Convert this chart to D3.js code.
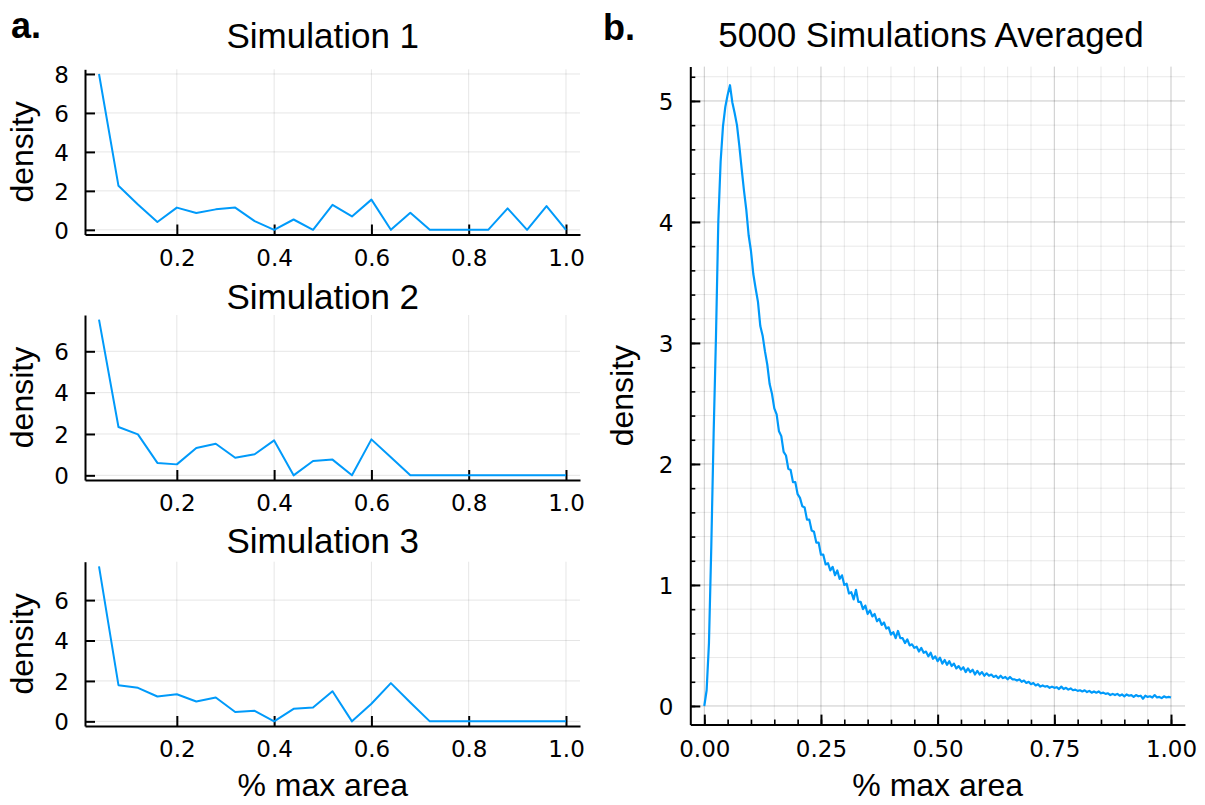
<!DOCTYPE html>
<html>
<head>
<meta charset="utf-8">
<script src="https://cdn.jsdelivr.net/npm/d3@7"></script>
<style>
  html, body { margin: 0; padding: 0; background: #fff; }
  svg { display: block; }
  .ttl { font-family: "Liberation Sans", Arial, sans-serif; font-size: 35px; fill: #000; }
  .lab { font-family: "Liberation Sans", Arial, sans-serif; font-size: 32px; fill: #000; }
  .tick { font-family: "DejaVu Sans", sans-serif; font-size: 23px; fill: #000; }
  .tag { font-family: "Liberation Sans", Arial, sans-serif; font-size: 36px; font-weight: bold; fill: #000; }
</style>
</head>
<body>
<svg id="fig" width="1205" height="805"></svg>
<script>
// Histogram bin centres shared by the three single-run panels
const simBins = [0.04, 0.08, 0.12, 0.16, 0.20, 0.24, 0.28, 0.32, 0.36, 0.40,
                 0.44, 0.48, 0.52, 0.56, 0.60, 0.64, 0.68, 0.72, 0.76, 0.80,
                 0.84, 0.88, 0.92, 0.96, 1.00];

// Density per bin for each single simulation
const sim1 = [8.0, 2.26, 1.3, 0.4, 1.14, 0.86, 1.05, 1.14, 0.45, 0,
              0.53, 0, 1.28, 0.69, 1.55, 0, 0.88, 0, 0, 0,
              0, 1.1, 0, 1.22, 0];
const sim2 = [7.53, 2.34, 1.98, 0.6, 0.53, 1.32, 1.53, 0.85, 1.02, 1.69,
              0, 0.69, 0.76, 0, 1.74, 0.87, 0, 0, 0, 0,
              0, 0, 0, 0, 0];
const sim3 = [7.67, 1.79, 1.66, 1.23, 1.34, 0.98, 1.18, 0.46, 0.52, 0,
              0.62, 0.69, 1.49, 0, 0.87, 1.89, 0.93, 0, 0, 0,
              0, 0, 0, 0, 0];

const simTitles = ["Simulation 1", "Simulation 2", "Simulation 3"];
const simXTicks = [0.2, 0.4, 0.6, 0.8, 1.0];
const simYTicks = [[0, 2, 4, 6, 8], [0, 2, 4, 6], [0, 2, 4, 6]];

// Averaged density over 5000 runs, sampled every 0.005 of max area (0 .. 1)
const avgStep = 0.005;
const avgDensity = [
  0, 0.13, 0.52, 1.32, 2.25, 3.05, 4.0, 4.5, 4.79, 4.95,
  5.05, 5.13, 4.99, 4.90, 4.80, 4.63, 4.44, 4.26, 4.10, 3.89,
  3.76, 3.57, 3.45, 3.34, 3.14, 3.06, 2.93, 2.82, 2.66, 2.58,
  2.46, 2.41, 2.27, 2.23, 2.10, 2.07, 1.96, 1.95, 1.85, 1.85,
  1.75, 1.72, 1.65, 1.64, 1.54, 1.54, 1.45, 1.44, 1.35, 1.35,
  1.25, 1.25, 1.17, 1.18, 1.12, 1.15, 1.08, 1.12, 1.05, 1.08,
  1.00, 1.01, 0.93, 0.94, 0.88, 0.96, 0.86, 0.86, 0.80, 0.83,
  0.76, 0.79, 0.74, 0.76, 0.70, 0.72, 0.67, 0.69, 0.64, 0.65,
  0.59, 0.61, 0.56, 0.62, 0.56, 0.56, 0.52, 0.55, 0.50, 0.51,
  0.48, 0.49, 0.45, 0.48, 0.44, 0.45, 0.41, 0.44, 0.39, 0.41,
  0.37, 0.40, 0.35, 0.38, 0.34, 0.37, 0.33, 0.35, 0.31, 0.33,
  0.30, 0.32, 0.28, 0.31, 0.28, 0.30, 0.26, 0.29, 0.26, 0.28,
  0.25, 0.27, 0.25, 0.26, 0.24, 0.25, 0.23, 0.25, 0.23, 0.24,
  0.22, 0.24, 0.22, 0.22, 0.21, 0.22, 0.20, 0.21, 0.19, 0.20,
  0.18, 0.19, 0.17, 0.18, 0.16, 0.17, 0.16, 0.165, 0.15, 0.16,
  0.15, 0.155, 0.14, 0.16, 0.14, 0.15, 0.135, 0.145, 0.13, 0.135,
  0.125, 0.13, 0.12, 0.13, 0.115, 0.125, 0.11, 0.12, 0.11, 0.12,
  0.105, 0.11, 0.10, 0.105, 0.09, 0.10, 0.09, 0.10, 0.085, 0.095,
  0.08, 0.095, 0.085, 0.09, 0.075, 0.09, 0.08, 0.085, 0.06, 0.085,
  0.075, 0.08, 0.07, 0.09, 0.07, 0.075, 0.065, 0.08, 0.07, 0.075,
  0.07
];
const avgXMajor = [0, 0.25, 0.5, 0.75, 1.0];
const avgXMinor = d3.range(0, 1.0001, 0.05);
const avgYMajor = [0, 1, 2, 3, 4, 5];
const avgYMinor = d3.range(0, 5.2001, 0.2);

const LINE = "#009AFA";
const svg = d3.select("#fig");

// widen an extent by 3% on each side
function widen(lo, hi) {
  const pad = (hi - lo) * 0.03;
  return [lo - pad, hi + pad];
}

// ---------- panel a: three single simulations ----------
const simBoxes = [
  { top: 69.3, bottom: 234.5, titleY: 48 },
  { top: 315, bottom: 480, titleY: 309 },
  { top: 561.7, bottom: 726, titleY: 553 }
];
const simLeft = 85, simRight = 580;
const simSeries = [sim1, sim2, sim3];

const xSim = d3.scaleLinear()
  .domain(widen(d3.min(simBins), d3.max(simBins)))
  .range([simLeft, simRight]);

simSeries.forEach((vals, k) => {
  const box = simBoxes[k];
  const y = d3.scaleLinear()
    .domain(widen(0, d3.max(vals)))
    .range([box.bottom, box.top]);
  const g = svg.append("g");

  // grid
  g.selectAll(".gx").data(simXTicks).join("line")
    .attr("x1", d => xSim(d)).attr("x2", d => xSim(d))
    .attr("y1", box.top).attr("y2", box.bottom)
    .attr("stroke", "rgba(0,0,0,0.1)").attr("stroke-width", 1);
  g.selectAll(".gy").data(simYTicks[k]).join("line")
    .attr("x1", simLeft).attr("x2", simRight)
    .attr("y1", d => y(d)).attr("y2", d => y(d))
    .attr("stroke", "rgba(0,0,0,0.1)").attr("stroke-width", 1);

  // axes (ticks point inward)
  const xa = g.append("g").attr("transform", `translate(0,${box.bottom})`)
    .call(d3.axisBottom(xSim).tickValues(simXTicks).tickSizeInner(-10).tickSizeOuter(0)
      .tickFormat(d3.format(".1f")));
  const ya = g.append("g").attr("transform", `translate(${simLeft},0)`)
    .call(d3.axisLeft(y).tickValues(simYTicks[k]).tickSizeInner(-10).tickSizeOuter(0)
      .tickFormat(d3.format("d")));
  [xa, ya].forEach(a => {
    a.attr("font-size", null).attr("font-family", null);
    a.select(".domain").attr("stroke", "#000").attr("stroke-width", 2);
    a.selectAll(".tick line").attr("stroke", "#000").attr("stroke-width", 2);
    a.selectAll(".tick text").attr("class", "tick").attr("fill", "#000");
  });
  xa.selectAll(".tick text").attr("y", 0).attr("dy", null).attr("transform", "translate(0,31)");
  ya.selectAll(".tick text").attr("x", -16).attr("dy", "0.36em");

  // series
  g.append("path")
    .datum(simBins.map((b, i) => [b, vals[i]]))
    .attr("fill", "none").attr("stroke", LINE).attr("stroke-width", 2)
    .attr("stroke-linejoin", "round")
    .attr("d", d3.line().x(d => xSim(d[0])).y(d => y(d[1])));

  // labels
  g.append("text").attr("class", "ttl").attr("text-anchor", "middle")
    .attr("x", xSim(0.5)).attr("y", box.titleY).text(simTitles[k]);
  g.append("text").attr("class", "lab").attr("text-anchor", "middle")
    .attr("transform", `translate(22,${(box.top + box.bottom) / 2}) rotate(-90)`)
    .attr("dy", "0.35em").text("density");
});

svg.append("text").attr("class", "lab").attr("text-anchor", "middle")
  .attr("x", xSim(0.5)).attr("y", 796).text("% max area");
svg.append("text").attr("class", "tag").attr("x", 11).attr("y", 38).text("a.");

// ---------- panel b: averaged density ----------
const bLeft = 690.3, bRight = 1185, bTop = 66.6, bBottom = 724.6;
const avgPts = avgDensity.map((v, i) => [i * avgStep, v]);
const xB = d3.scaleLinear().domain(widen(0, 1)).range([bLeft, bRight]);
const yB = d3.scaleLinear().domain(widen(0, d3.max(avgDensity))).range([bBottom, bTop]);
const gb = svg.append("g");

// minor then major grid
gb.selectAll(".mgx").data(avgXMinor).join("line")
  .attr("x1", d => xB(d)).attr("x2", d => xB(d)).attr("y1", bTop).attr("y2", bBottom)
  .attr("stroke", "rgba(0,0,0,0.09)").attr("stroke-width", 1);
gb.selectAll(".mgy").data(avgYMinor).join("line")
  .attr("x1", bLeft).attr("x2", bRight).attr("y1", d => yB(d)).attr("y2", d => yB(d))
  .attr("stroke", "rgba(0,0,0,0.09)").attr("stroke-width", 1);
gb.selectAll(".Mgx").data(avgXMajor).join("line")
  .attr("x1", d => xB(d)).attr("x2", d => xB(d)).attr("y1", bTop).attr("y2", bBottom)
  .attr("stroke", "rgba(0,0,0,0.13)").attr("stroke-width", 1);
gb.selectAll(".Mgy").data(avgYMajor).join("line")
  .attr("x1", bLeft).attr("x2", bRight).attr("y1", d => yB(d)).attr("y2", d => yB(d))
  .attr("stroke", "rgba(0,0,0,0.13)").attr("stroke-width", 1);

// minor ticks
gb.append("g").attr("transform", `translate(0,${bBottom})`)
  .call(d3.axisBottom(xB).tickValues(avgXMinor).tickSizeInner(-5).tickSizeOuter(0).tickFormat(""))
  .call(a => a.select(".domain").remove())
  .call(a => a.selectAll(".tick line").attr("stroke", "#000").attr("stroke-width", 1.6));
gb.append("g").attr("transform", `translate(${bLeft},0)`)
  .call(d3.axisLeft(yB).tickValues(avgYMinor).tickSizeInner(-5).tickSizeOuter(0).tickFormat(""))
  .call(a => a.select(".domain").remove())
  .call(a => a.selectAll(".tick line").attr("stroke", "#000").attr("stroke-width", 1.6));

// major ticks with labels
const bxa = gb.append("g").attr("transform", `translate(0,${bBottom})`)
  .call(d3.axisBottom(xB).tickValues(avgXMajor).tickSizeInner(-10).tickSizeOuter(0)
    .tickFormat(d3.format(".2f")));
const bya = gb.append("g").attr("transform", `translate(${bLeft},0)`)
  .call(d3.axisLeft(yB).tickValues(avgYMajor).tickSizeInner(-10).tickSizeOuter(0)
    .tickFormat(d3.format("d")));
[bxa, bya].forEach(a => {
  a.attr("font-size", null).attr("font-family", null);
  a.select(".domain").attr("stroke", "#000").attr("stroke-width", 2);
  a.selectAll(".tick line").attr("stroke", "#000").attr("stroke-width", 2);
  a.selectAll(".tick text").attr("class", "tick").attr("fill", "#000");
});
bxa.selectAll(".tick text").attr("y", 0).attr("dy", null).attr("transform", "translate(0,32)");
bya.selectAll(".tick text").attr("x", -17).attr("dy", "0.36em");

gb.append("path").datum(avgPts)
  .attr("fill", "none").attr("stroke", LINE).attr("stroke-width", 2.2)
  .attr("stroke-linejoin", "round")
  .attr("d", d3.line().x(d => xB(d[0])).y(d => yB(d[1])));

gb.append("text").attr("class", "ttl").attr("text-anchor", "middle")
  .attr("x", 931).attr("y", 47).text("5000 Simulations Averaged");
gb.append("text").attr("class", "lab").attr("text-anchor", "middle")
  .attr("x", xB(0.5)).attr("y", 796).text("% max area");
gb.append("text").attr("class", "lab").attr("text-anchor", "middle")
  .attr("transform", `translate(622,${(bTop + bBottom) / 2}) rotate(-90)`)
  .attr("dy", "0.35em").text("density");
svg.append("text").attr("class", "tag").attr("x", 603).attr("y", 40).text("b.");
</script>
</body>
</html>
